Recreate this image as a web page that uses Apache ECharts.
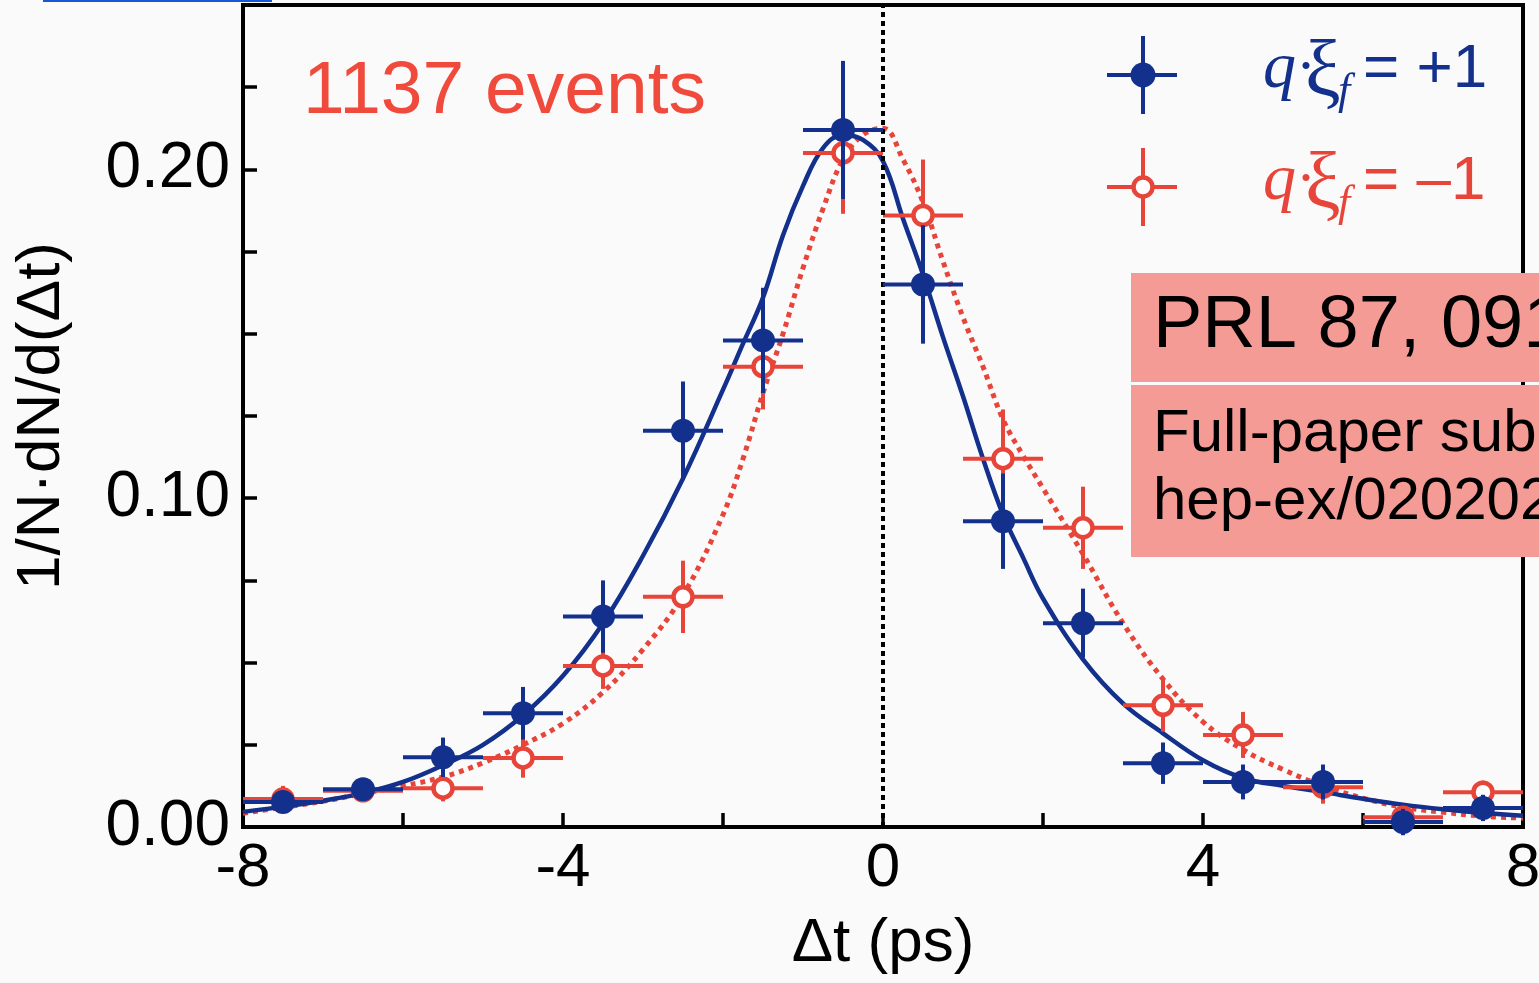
<!DOCTYPE html>
<html>
<head>
<meta charset="utf-8">
<script src="https://cdn.jsdelivr.net/npm/echarts@6/dist/echarts.min.js"></script>
<style>
  html, body { margin: 0; padding: 0; background: #fafafa; }
  #chart { width: 1539px; height: 983px; }
</style>
</head>
<body>
<div id="chart"></div>
<script>
// bins of delta t (ps), half width of each bin
const binCenters = [-7.5, -6.5, -5.5, -4.5, -3.5, -2.5, -1.5, -0.5, 0.5, 1.5, 2.5, 3.5, 4.5, 5.5, 6.5, 7.5];
const binHalfWidth = 0.5;

// q*xi_f = +1 (filled)
const bluePts = [0.0076, 0.0115, 0.0212, 0.0346, 0.064, 0.1205, 0.148, 0.212, 0.165, 0.093, 0.062, 0.0194, 0.0137, 0.0137, 0.0015, 0.0058];
const blueErr = [0.003, 0.003, 0.006, 0.008, 0.011, 0.015, 0.016, 0.021, 0.018, 0.0145, 0.0105, 0.0063, 0.0053, 0.0053, 0.004, 0.004];

// q*xi_f = -1 (open)
const redPts = [0.0085, 0.011, 0.0118, 0.021, 0.049, 0.070, 0.140, 0.205, 0.186, 0.112, 0.091, 0.037, 0.028, 0.0121, 0.003, 0.0106];
const redErr = [0.004, 0.003, 0.004, 0.006, 0.007, 0.011, 0.013, 0.0185, 0.017, 0.015, 0.0125, 0.008, 0.007, 0.005, 0.003, 0.0035];

// fit curves
const fitX = [-8, -7.5, -7, -6.5, -6, -5.5, -5, -4.5, -4, -3.5, -3, -2.5, -2, -1.75, -1.5, -1.25, -1, -0.75, -0.5, -0.25, 0, 0.25, 0.5, 0.75, 1, 1.25, 1.5, 1.75, 2, 2.5, 3, 3.5, 4, 4.5, 5, 5.5, 6, 6.5, 7, 7.5, 8];
const blueFit = [0.0046, 0.0062, 0.008, 0.0103, 0.0137, 0.0188, 0.025, 0.034, 0.046, 0.062, 0.0825, 0.106, 0.133, 0.147, 0.161, 0.180, 0.195, 0.2065, 0.2105, 0.209, 0.2025, 0.185, 0.168, 0.149, 0.131, 0.112, 0.095, 0.082, 0.0695, 0.051, 0.0376, 0.0285, 0.0203, 0.0149, 0.0125, 0.0106, 0.0086, 0.0068, 0.0054, 0.0043, 0.0034];
const redFit = [0.0042, 0.006, 0.0078, 0.0102, 0.0125, 0.0152, 0.0195, 0.025, 0.0315, 0.041, 0.054, 0.0705, 0.095, 0.112, 0.132, 0.150, 0.170, 0.188, 0.203, 0.2105, 0.2125, 0.203, 0.19, 0.172, 0.155, 0.140, 0.124, 0.113, 0.103, 0.083, 0.062, 0.045, 0.032, 0.0235, 0.0175, 0.0125, 0.0088, 0.006, 0.0045, 0.0033, 0.0027];

const xTicks = [-8, -4, 0, 4, 8];
const yTicks = ['0.00', '0.10', '0.20'];

const BLUE = '#12308c';
const RED = '#e8453a';

const chart = echarts.init(document.getElementById('chart'));

function errRender(color, filled) {
  return function (params, api) {
    const x = api.value(0), y = api.value(1), e = api.value(2);
    const c = api.coord([x, y]);
    const l = api.coord([x - binHalfWidth, y]);
    const r = api.coord([x + binHalfWidth, y]);
    const t = api.coord([x, y + e]);
    const b = api.coord([x, y - e]);
    const ls = { stroke: color, lineWidth: 4 };
    return {
      type: 'group',
      children: [
        { type: 'line', shape: { x1: l[0], y1: l[1], x2: r[0], y2: r[1] }, style: ls },
        { type: 'line', shape: { x1: t[0], y1: t[1], x2: b[0], y2: b[1] }, style: ls },
        {
          type: 'circle', shape: { cx: c[0], cy: c[1], r: filled ? 12 : 9.5 },
          style: filled ? { fill: color } : { fill: '#ffffff', stroke: color, lineWidth: 4.5 }
        }
      ]
    };
  };
}

const sansFont = 'Liberation Sans, Arial, sans-serif';
const serifFont = 'Liberation Serif, DejaVu Serif, serif';

function legendRow(cy, color, filled, sign) {
  return [
    { type: 'line', z: 100, shape: { x1: 1107, y1: cy, x2: 1177, y2: cy }, style: { stroke: color, lineWidth: 4 } },
    { type: 'line', z: 100, shape: { x1: 1143, y1: cy - 39, x2: 1143, y2: cy + 39 }, style: { stroke: color, lineWidth: 4 } },
    { type: 'circle', z: 101, shape: { cx: 1143, cy: cy, r: filled ? 12.5 : 9.5 },
      style: filled ? { fill: color } : { fill: '#ffffff', stroke: color, lineWidth: 4.5 } },
    { type: 'text', z: 100, x: 1263, y: cy - 5, style: { text: 'q', fill: color, font: 'italic 66px ' + serifFont, textAlign: 'left', verticalAlign: 'middle', textVerticalAlign: 'middle' } },
    { type: 'text', z: 100, x: 1296, y: cy - 6, style: { text: '·', fill: color, font: '60px ' + serifFont, textAlign: 'left', verticalAlign: 'middle', textVerticalAlign: 'middle' } },
    { type: 'text', z: 100, x: 1305, y: cy, style: { text: 'ξ', fill: color, font: '80px ' + serifFont, textAlign: 'left', verticalAlign: 'middle', textVerticalAlign: 'middle' } },
    { type: 'text', z: 100, x: 1338, y: cy + 17, style: { text: 'f', fill: color, font: 'italic 44px ' + serifFont, textAlign: 'left', verticalAlign: 'middle', textVerticalAlign: 'middle' } },
    { type: 'text', z: 100, x: 1363, y: cy - 5, style: { text: '= ' + sign + '1', fill: color, font: '62px ' + sansFont, textAlign: 'left', verticalAlign: 'middle', textVerticalAlign: 'middle' } }
  ];
}

const option = {
  backgroundColor: '#fafafa',
  animation: false,
  grid: {
    left: 243, right: 16, top: 5, bottom: 156,
    containLabel: false,
    outerBoundsMode: 'none',
    show: true,
    borderColor: '#000',
    borderWidth: 4,
    backgroundColor: 'transparent'
  },
  xAxis: {
    type: 'value',
    min: -8, max: 8, interval: 2,
    name: 'Δt (ps)',
    nameLocation: 'middle',
    nameGap: 86,
    nameTextStyle: { fontSize: 62, color: '#000', fontFamily: sansFont },
    axisLine: { onZero: false, lineStyle: { color: '#000', width: 4 } },
    axisTick: { inside: true, length: 14, lineStyle: { color: '#000', width: 3.5 } },
    axisLabel: {
      margin: 11, fontSize: 62, color: '#000', fontFamily: sansFont,
      formatter: v => xTicks.includes(v) ? String(v) : ''
    },
    splitLine: { show: false }
  },
  yAxis: {
    type: 'value',
    min: 0, max: 0.25, interval: 0.025,
    name: '1/N·dN/d(Δt)',
    nameLocation: 'middle',
    nameGap: 170,
    nameTextStyle: { fontSize: 62, color: '#000', fontFamily: sansFont },
    axisLine: { onZero: false, lineStyle: { color: '#000', width: 4 } },
    axisTick: { inside: true, length: 14, lineStyle: { color: '#000', width: 3.5 } },
    axisLabel: {
      margin: 13, fontSize: 64, color: '#000', fontFamily: sansFont,
      formatter: v => {
        const s = v.toFixed(2);
        return yTicks.includes(s) && Math.abs(v - Number(s)) < 1e-9 ? s : '';
      }
    },
    splitLine: { show: false }
  },
  series: [
    {
      name: 'fit -1',
      type: 'line',
      z: 2,
      smooth: 0.4,
      showSymbol: false,
      data: fitX.map((x, i) => [x, redFit[i]]),
      lineStyle: { color: RED, width: 5, type: [5, 5] }
    },
    {
      name: 'fit +1',
      type: 'line',
      z: 3,
      smooth: 0.4,
      showSymbol: false,
      data: fitX.map((x, i) => [x, blueFit[i]]),
      lineStyle: { color: BLUE, width: 4.5 },
      markLine: {
        silent: true,
        symbol: ['none', 'none'],
        label: { show: false },
        lineStyle: { color: '#000', width: 4, type: [5, 4] },
        data: [{ xAxis: 0 }]
      }
    },
    {
      name: 'q·ξf = -1',
      type: 'custom',
      z: 4,
      clip: false,
      renderItem: errRender(RED, false),
      data: binCenters.map((x, i) => [x, redPts[i], redErr[i]])
    },
    {
      name: 'q·ξf = +1',
      type: 'custom',
      z: 5,
      clip: false,
      renderItem: errRender(BLUE, true),
      data: binCenters.map((x, i) => [x, bluePts[i], blueErr[i]])
    }
  ],
  graphic: [
    { type: 'rect', z: 100, shape: { x: 43, y: 0, width: 229, height: 2 }, style: { fill: '#1b57d4' } },
    { type: 'text', z: 100, x: 303, y: 92, style: { text: '1137 events', fill: '#ef4a3b', font: '75px ' + sansFont, textAlign: 'left', verticalAlign: 'middle', textVerticalAlign: 'middle' } },
    ...legendRow(75, BLUE, true, '+'),
    ...legendRow(187, RED, false, '–'),
    { type: 'rect', z: 100, shape: { x: 1131, y: 273, width: 420, height: 109 }, style: { fill: '#f59b96' } },
    { type: 'rect', z: 100, shape: { x: 1131, y: 385, width: 420, height: 172 }, style: { fill: '#f59b96' } },
    { type: 'text', z: 101, x: 1153, y: 327, style: { text: 'PRL 87, 091802 (2001)', fill: '#000', font: '74px ' + sansFont, textAlign: 'left', verticalAlign: 'middle', textVerticalAlign: 'middle' } },
    { type: 'text', z: 101, x: 1153, y: 434, style: { text: 'Full-paper submitted to PRD', fill: '#000', font: '60px ' + sansFont, textAlign: 'left', verticalAlign: 'middle', textVerticalAlign: 'middle' } },
    { type: 'text', z: 101, x: 1153, y: 502, style: { text: 'hep-ex/0202027', fill: '#000', font: '60px ' + sansFont, textAlign: 'left', verticalAlign: 'middle', textVerticalAlign: 'middle' } }
  ]
};

chart.setOption(option);
</script>
</body>
</html>
